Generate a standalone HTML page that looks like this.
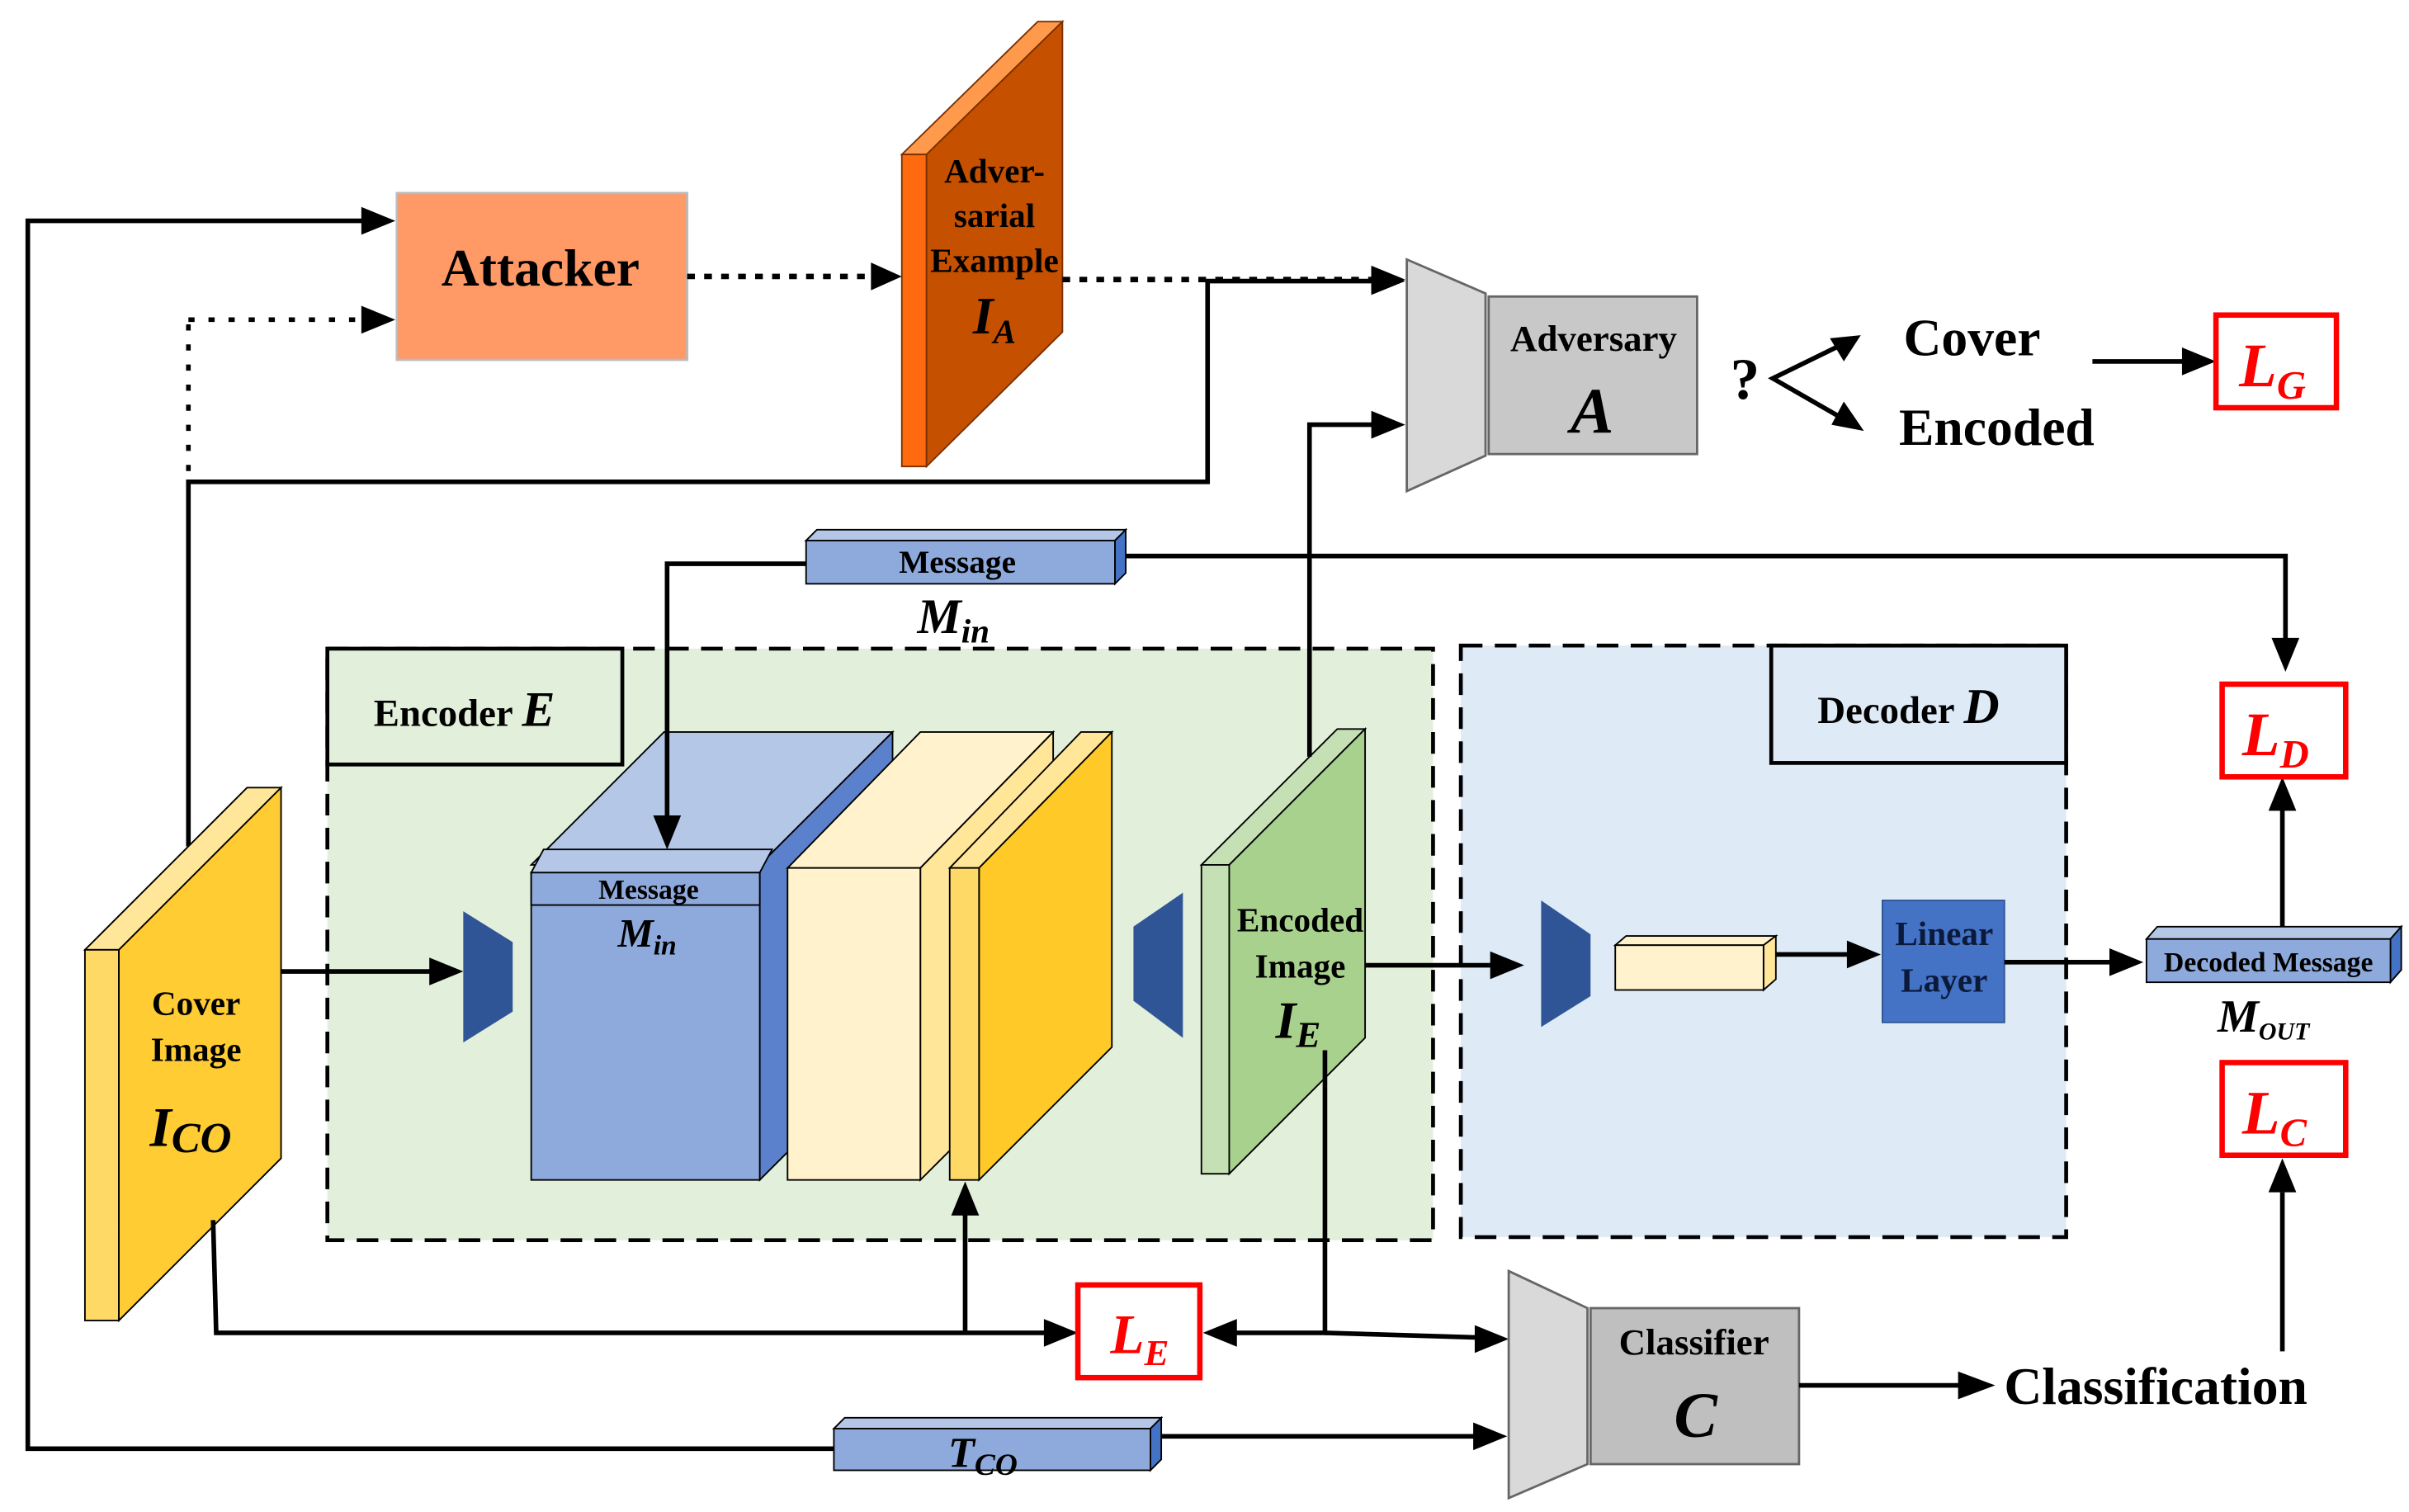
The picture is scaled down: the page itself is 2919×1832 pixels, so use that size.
<!DOCTYPE html>
<html><head><meta charset="utf-8"><style>
html,body{margin:0;padding:0;background:#fff;}
svg{display:block;}
text{font-family:"Liberation Serif",serif;font-weight:bold;fill:#000;}
.it{font-style:italic;}
.ln{stroke:#000;stroke-width:3;fill:none;}
.dt{stroke:#000;stroke-width:3.5;fill:none;stroke-dasharray:5 6;}
.red{fill:#fff;stroke:#f00;stroke-width:3.5;}
.rt{fill:#f00;font-style:italic;}
</style></head><body>
<svg width="2919" height="1832" viewBox="0 0 1560 979" preserveAspectRatio="none" xmlns="http://www.w3.org/2000/svg">

<!-- regions -->
<rect x="212" y="420" width="716" height="383" fill="#E2EFDA" stroke="#000" stroke-width="2.5" stroke-dasharray="14 8"/>
<rect x="212" y="420" width="191" height="75" fill="#E2EFDA" stroke="#000" stroke-width="2.5"/>
<text x="242" y="470" font-size="25">Encoder <tspan class="it" font-size="32">E</tspan></text>
<rect x="946" y="418" width="392" height="383" fill="#DEEBF7" stroke="#000" stroke-width="2.5" stroke-dasharray="14 8"/>
<rect x="1147" y="418" width="191" height="76" fill="#DEEBF7" stroke="#000" stroke-width="2.5"/>
<text x="1177" y="468" font-size="25">Decoder <tspan class="it" font-size="32">D</tspan></text>

<!-- Attacker -->
<rect x="257" y="125" width="188" height="108" fill="#FF9966" stroke="#bbb" stroke-width="1.5"/>
<text x="350" y="185" font-size="34" text-anchor="middle">Attacker</text>

<!-- Adversarial example -->
<polygon points="584,100 672,14 688,14 600,100" fill="#FF9A4D" stroke="#7a3000" stroke-width="1"/>
<polygon points="584,100 600,100 600,302 584,302" fill="#FF6A10" stroke="#7a3000" stroke-width="1"/>
<polygon points="600,100 688,14 688,215 600,302" fill="#C55000" stroke="#7a3000" stroke-width="1"/>
<text x="644" y="118" font-size="22" text-anchor="middle">Adver-</text>
<text x="644" y="147" font-size="22" text-anchor="middle">sarial</text>
<text x="644" y="176" font-size="22" text-anchor="middle">Example</text>
<text x="630" y="216" font-size="34" class="it">I<tspan font-size="22" dy="6">A</tspan></text>

<!-- connectors top -->
<line class="dt" x1="445" y1="179" x2="576" y2="179"/><polygon points="584,179 564,170 564,188"/>
<line class="dt" x1="688" y1="181" x2="900" y2="181"/><polygon points="910,181 888,172 888,190"/>
<polyline class="ln" points="122,548 122,312 782,312 782,182 890,182"/>
<polygon points="910,182 888,173 888,191"/>
<line class="ln" stroke-dasharray="4 9" x1="122" y1="305" x2="122" y2="207"/>
<line class="ln" stroke-dasharray="4 9" x1="122" y1="207" x2="238" y2="207"/>
<polygon points="256,207 234,198 234,216"/>
<polyline class="ln" points="236,143 18,143 18,938 540,938"/>
<polygon points="256,143 234,134 234,152"/>

<!-- Adversary -->
<polygon points="911,168 962,190 962,295 911,318" fill="#D9D9D9" stroke="#666" stroke-width="1.5"/>
<rect x="964" y="192" width="135" height="102" fill="#C8C8C8" stroke="#666" stroke-width="1.5"/>
<text x="1032" y="227" font-size="24" text-anchor="middle">Adversary</text>
<text x="1031" y="280" font-size="42" class="it" text-anchor="middle">A</text>
<text x="1130" y="258" font-size="38" text-anchor="middle">?</text>
<polyline class="ln" points="1195,222 1148,245 1195,272"/>
<polygon points="1205,217 1185,219 1194,234"/>
<polygon points="1207,279 1194,260 1186,275"/>
<text x="1277" y="230" font-size="34" text-anchor="middle">Cover</text>
<text x="1293" y="288" font-size="34" text-anchor="middle">Encoded</text>
<line class="ln" x1="1355" y1="234" x2="1415" y2="234"/><polygon points="1435,234 1413,225 1413,243"/>
<rect class="red" x="1435" y="204" width="78" height="60"/>
<text class="rt" x="1450" y="250" font-size="40">L<tspan font-size="26" dy="8">G</tspan></text>

<!-- Message -->
<polygon points="522,350 529,343 729,343 722,350" fill="#B4C7E7" stroke="#000" stroke-width="1"/>
<polygon points="722,350 729,343 729,371 722,378" fill="#4472C4" stroke="#000" stroke-width="1"/>
<rect x="522" y="350" width="200" height="28" fill="#8EA9DB" stroke="#000" stroke-width="1"/>
<text x="620" y="371" font-size="21" text-anchor="middle">Message</text>
<text x="594" y="410" font-size="32" class="it">M<tspan font-size="22" dy="6">in</tspan></text>
<polyline class="ln" points="729,360 1480,360 1480,415"/>
<polygon points="1480,435 1471,413 1489,413"/>

<!-- Cover Image -->
<polygon points="55,615 160,510 182,510 77,615" fill="#FFE699" stroke="#000" stroke-width="1"/>
<rect x="55" y="615" width="22" height="240" fill="#FFD966" stroke="#000" stroke-width="1"/>
<polygon points="77,615 182,510 182,750 77,855" fill="#FFCC33" stroke="#000" stroke-width="1"/>
<text x="127" y="657" font-size="22" text-anchor="middle">Cover</text>
<text x="127" y="687" font-size="22" text-anchor="middle">Image</text>
<text x="97" y="742" font-size="36" class="it">I<tspan font-size="28" dy="4">CO</tspan></text>
<line class="ln" x1="182" y1="629" x2="280" y2="629"/><polygon points="300,629 278,620 278,638"/>

<!-- encoder inner -->
<polygon points="300,590 332,610 332,655 300,675" fill="#2F5597"/>
<polygon points="344,560 430,474 578,474 492,560" fill="#B4C7E7" stroke="#000" stroke-width="1"/>
<polygon points="492,560 578,474 578,678 492,764" fill="#5B80CC" stroke="#000" stroke-width="1"/>
<rect x="344" y="565" width="148" height="199" fill="#8EA9DB" stroke="#000" stroke-width="1"/>
<polygon points="344,565 352,550 500,550 492,565" fill="#B4C7E7" stroke="#000" stroke-width="1"/>
<rect x="344" y="565" width="148" height="21" fill="#8EA9DB" stroke="#000" stroke-width="1"/>
<text x="420" y="582" font-size="18" text-anchor="middle">Message</text>
<text x="400" y="613" font-size="26" class="it">M<tspan font-size="18" dy="5">in</tspan></text>
<polyline class="ln" points="522,365 432,365 432,530"/>
<polygon points="432,550 423,528 441,528"/>
<polygon points="510,562 596,474 682,474 596,562" fill="#FFF2CC" stroke="#000" stroke-width="1"/>
<polygon points="596,562 682,474 682,678 596,764" fill="#FFE699" stroke="#000" stroke-width="1"/>
<rect x="510" y="562" width="86" height="202" fill="#FFF2CC" stroke="#000" stroke-width="1"/>
<polygon points="615,562 700,474 720,474 634,562" fill="#FFE699" stroke="#000" stroke-width="1"/>
<polygon points="634,562 720,474 720,678 634,764" fill="#FFCA28" stroke="#000" stroke-width="1"/>
<rect x="615" y="562" width="19" height="202" fill="#FFD966" stroke="#000" stroke-width="1"/>
<polygon points="734,600 766,578 766,672 734,648" fill="#2F5597"/>

<!-- Encoded image -->
<polygon points="778,560 866,472 884,472 796,560" fill="#C5E0B4" stroke="#000" stroke-width="1"/>
<rect x="778" y="560" width="18" height="200" fill="#C5E0B4" stroke="#000" stroke-width="1"/>
<polygon points="796,560 884,472 884,672 796,760" fill="#A9D18E" stroke="#000" stroke-width="1"/>
<text x="842" y="603" font-size="22" text-anchor="middle">Encoded</text>
<text x="842" y="633" font-size="22" text-anchor="middle">Image</text>
<text x="826" y="672" font-size="34" class="it">I<tspan font-size="24" dy="6">E</tspan></text>
<polyline class="ln" points="848,490 848,275 890,275"/>
<polygon points="910,275 888,266 888,284"/>
<line class="ln" x1="884" y1="625" x2="967" y2="625"/><polygon points="987,625 965,616 965,634"/>

<!-- decoder inner -->
<polygon points="998,583 1030,605 1030,645 998,665" fill="#2F5597"/>
<polygon points="1046,612 1053,606 1150,606 1142,612" fill="#FFF2CC" stroke="#000" stroke-width="1"/>
<polygon points="1142,612 1150,606 1150,634 1142,641" fill="#FFE699" stroke="#000" stroke-width="1"/>
<rect x="1046" y="612" width="96" height="29" fill="#FFF2CC" stroke="#000" stroke-width="1"/>
<line class="ln" x1="1150" y1="618" x2="1198" y2="618"/><polygon points="1218,618 1196,609 1196,627"/>
<rect x="1219" y="583" width="79" height="79" fill="#4472C4" stroke="#2F5597" stroke-width="1"/>
<text x="1259" y="612" font-size="22" text-anchor="middle" style="fill:#0b1a3a">Linear</text>
<text x="1259" y="642" font-size="22" text-anchor="middle" style="fill:#0b1a3a">Layer</text>
<line class="ln" x1="1298" y1="623" x2="1368" y2="623"/><polygon points="1388,623 1366,614 1366,632"/>

<!-- Decoded message -->
<polygon points="1390,608 1397,600 1555,600 1548,608" fill="#B4C7E7" stroke="#000" stroke-width="1"/>
<polygon points="1548,608 1555,600 1555,628 1548,636" fill="#4472C4" stroke="#000" stroke-width="1"/>
<rect x="1390" y="608" width="158" height="28" fill="#8EA9DB" stroke="#000" stroke-width="1"/>
<text x="1469" y="629" font-size="18" text-anchor="middle">Decoded Message</text>
<text x="1436" y="668" font-size="30" class="it">M<tspan font-size="16" dy="5">OUT</tspan></text>
<line class="ln" x1="1478" y1="600" x2="1478" y2="523"/><polygon points="1478,503 1469,525 1487,525"/>
<rect class="red" x="1439" y="443" width="80" height="60"/>
<text class="rt" x="1452" y="489" font-size="40">L<tspan font-size="26" dy="8">D</tspan></text>
<rect class="red" x="1439" y="688" width="80" height="60"/>
<text class="rt" x="1452" y="734" font-size="40">L<tspan font-size="26" dy="8">C</tspan></text>
<line class="ln" x1="1478" y1="875" x2="1478" y2="772"/><polygon points="1478,750 1469,772 1487,772"/>

<!-- bottom connectors -->
<polyline class="ln" points="138,790 140,863 678,863"/>
<polygon points="698,863 676,854 676,872"/>
<line class="ln" x1="625" y1="863" x2="625" y2="786"/><polygon points="625,765 616,787 634,787"/>
<rect class="red" x="698" y="832" width="79" height="60"/>
<text class="rt" x="719" y="876" font-size="36">L<tspan font-size="24" dy="8">E</tspan></text>
<polyline class="ln" points="858,680 858,863 800,863"/>
<polygon points="779,863 801,854 801,872"/>
<line class="ln" x1="858" y1="863" x2="957" y2="866"/><polygon points="977,867 955,858 955,876"/>

<!-- Classifier -->
<polygon points="977,823 1028,847 1028,948 977,970" fill="#D9D9D9" stroke="#666" stroke-width="1.5"/>
<rect x="1030" y="847" width="135" height="101" fill="#BFBFBF" stroke="#666" stroke-width="1.5"/>
<text x="1097" y="877" font-size="24" text-anchor="middle">Classifier</text>
<text x="1098" y="930" font-size="42" class="it" text-anchor="middle">C</text>
<line class="ln" x1="1165" y1="897" x2="1270" y2="897"/><polygon points="1292,897 1268,888 1268,906"/>
<text x="1396" y="909" font-size="34" text-anchor="middle">Classification</text>

<!-- T_CO -->
<polygon points="540,925 547,918 752,918 745,925" fill="#B4C7E7" stroke="#000" stroke-width="1"/>
<polygon points="745,925 752,918 752,945 745,952" fill="#4472C4" stroke="#000" stroke-width="1"/>
<rect x="540" y="925" width="205" height="27" fill="#8EA9DB" stroke="#000" stroke-width="1"/>
<text x="614" y="950" font-size="28" class="it">T<tspan font-size="20" dy="5">CO</tspan></text>
<line class="ln" x1="752" y1="930" x2="955" y2="930"/><polygon points="976,930 954,921 954,939"/>
</svg>
</body></html>
